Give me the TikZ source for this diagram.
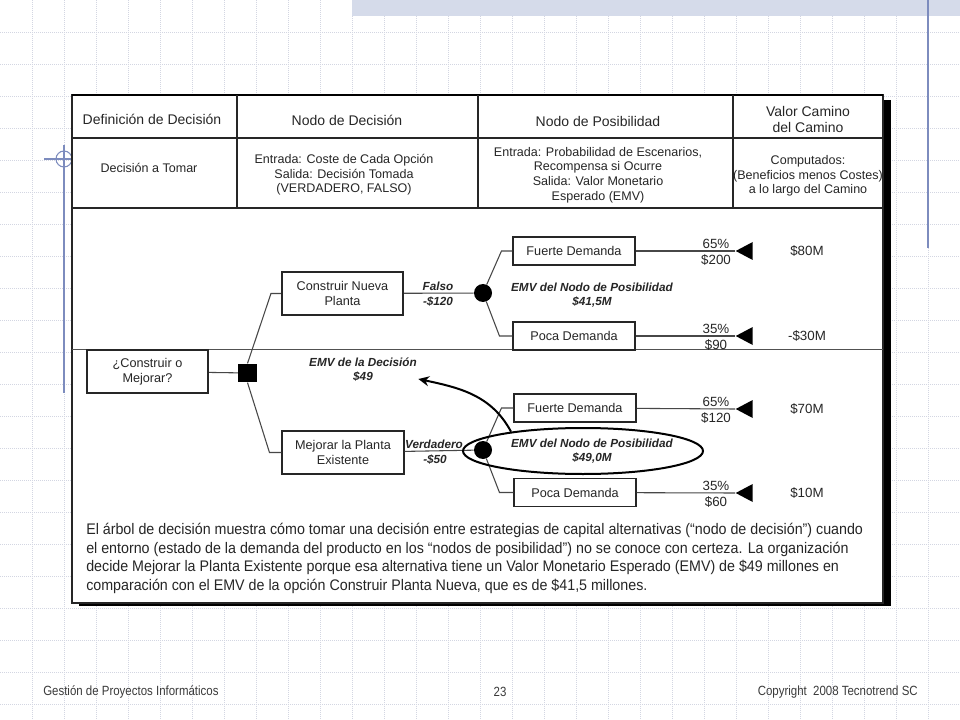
\documentclass[tikz,border=0pt]{standalone}
\usepackage{fontspec}
\setmainfont{Liberation Sans}
\newfontfamily\NarrowSans[FakeStretch=0.86]{Liberation Sans}
\newfontfamily\NoteSans[FakeStretch=0.93]{Liberation Sans}
\usepackage{tikz}
\usetikzlibrary{arrows.meta,positioning,calc,shapes.geometric}
\definecolor{Ink}{HTML}{262626}
\definecolor{Grid}{HTML}{D3D6E2}
\definecolor{Slate}{HTML}{7D8CBE}
\definecolor{Band}{HTML}{D5DBEA}
\definecolor{Foot}{HTML}{3A3A3A}
\tikzset{
  griddot/.style={Grid,line width=0.45pt,dash pattern=on 0.6pt off 0.9pt},
  rule/.style={Ink,line width=1.1pt},
  headcell/.style={text=Ink,align=center,font=\fontsize{10.5}{12}\selectfont},
  bodycell/.style={text=Ink,align=center,font=\fontsize{9.4}{10.9}\selectfont},
  optbox/.style={draw=Ink,line width=1.3pt,text=Ink,align=center,inner sep=0pt,minimum width=91pt,minimum height=32pt,font=\fontsize{9.5}{11}\selectfont},
  demandbox/.style={optbox,minimum height=21pt},
  branch/.style={Ink!85,line width=0.8pt},
  emv/.style={text=Ink,align=center,inner sep=1pt,font=\bfseries\itshape\fontsize{8.8}{10.5}\selectfont},
  num/.style={text=Ink,inner sep=0pt,font=\fontsize{10}{12}\selectfont},
  chance/.style={circle,fill=black,minimum size=13.5pt,inner sep=0pt},
  decsq/.style={rectangle,fill=black,minimum size=14pt,inner sep=0pt},
  endtri/.style={isosceles triangle,isosceles triangle stretches,shape border rotate=180,fill=black,minimum width=13.5pt,minimum height=12.75pt,inner sep=0pt},
  foot/.style={text=Foot,inner sep=0pt,font=\NarrowSans\fontsize{10}{12}\selectfont},
}
\newcommand{\Outcome}[5]{%
  \node[endtri,anchor=apex] (#1End) at (735,#2) {};%
  \draw[branch] (#1) -- (#1End.apex);%
  \node[num] (#1Pct) at (716,#2-7) {#3};%
  \node[num] (#1Pay) at (716,#2+9) {#4};%
  \node[num] (#1Val) at (807,#2) {#5};%
}

\begin{document}
\begin{tikzpicture}[x=0.75pt,y=-0.75pt]
\useasboundingbox (0,0) rectangle (960,720);
\fill[white] (0,0) rectangle (960,720);
\foreach \g in {32,64,...,928} {\draw[griddot] (\g,0) -- (\g,720);}
\foreach \g in {32,64,...,704} {\draw[griddot] (0,\g) -- (960,\g);}
\fill[Band] (352,0) rectangle (960,16);
\draw[Slate,line width=0.8pt] (928,0) -- (928,248);
\draw[Slate,line width=0.8pt] (64,145) -- (64,393);
\draw[Slate,line width=0.8pt] (44,159) -- (72,159);
\draw[Slate,line width=0.8pt] (64,159) circle[radius=8];
\fill[black] (79,100) rectangle (891,606);
\filldraw[fill=white,draw=Ink,line width=0.8pt] (72,95) rectangle (883,603);
\draw[black,line width=1.6pt] (72,95) -- (883,95);
\draw[rule] (72,138) -- (883,138);
\draw[rule] (72,208) -- (883,208);
\foreach \x in {237,478,733} {\draw[rule] (\x,95) -- (\x,208);}
\draw[Ink!80,line width=0.7pt] (72,349) -- (883,349);

\node[headcell] (hDef) at (152,119) {Definición de Decisión};
\node[headcell] (hDec) at (347,120) {Nodo de Decisión};
\node[headcell] (hPos) at (598,121) {Nodo de Posibilidad};
\node[headcell] (hVal) at (808,119) {Valor Camino\\del Camino};
\node[bodycell] (bDef) at (149,168) {Decisión a Tomar};
\node[bodycell] (bDec) at (344,175) {Entrada: Coste de Cada Opción\\Salida: Decisión Tomada\\(VERDADERO, FALSO)};
\node[bodycell] (bPos) at (598,175) {Entrada: Probabilidad de Escenarios,\\Recompensa si Ocurre\\Salida: Valor Monetario\\Esperado (EMV)};
\node[bodycell] (bVal) at (808,176) {Computados:\\(Beneficios menos Costes)\\a lo largo del Camino};

\node[optbox] (ask) at (147.5,371.5) {¿Construir o\\Mejorar?};
\node[decsq] (dec) at (247.5,373) {};
\node[optbox] (build) at (342.5,293.5) {Construir Nueva\\Planta};
\node[optbox] (upgrade) at (343,452.5) {Mejorar la Planta\\Existente};
\node[chance] (chBuild) at (483,293) {};
\node[chance] (chUp) at (483,450) {};
\node[demandbox] (fdBuild) at (574,251) {Fuerte Demanda};
\node[demandbox] (pdBuild) at (574,336) {Poca Demanda};
\node[demandbox] (fdUp) at (575,408) {Fuerte Demanda};
\node[demandbox] (pdUp) at (575,492.5) {Poca Demanda};

\draw[branch] (ask) -- (dec);
\draw[branch] (dec.north) -- ($(build.west)+(-10,0)$) -- (build.west);
\draw[branch] (dec.south) -- ($(upgrade.west)+(-12,0)$) -- (upgrade.west);
\draw[branch] (build) -- (chBuild);
\draw[branch] (upgrade) -- (chUp);
\draw[branch] (chBuild) -- ($(fdBuild.west)+(-11,0)$) -- (fdBuild.west);
\draw[branch] (chBuild) -- ($(pdBuild.west)+(-13,0)$) -- (pdBuild.west);
\draw[branch] (chUp) -- ($(fdUp.west)+(-12,0)$) -- (fdUp.west);
\draw[branch] (chUp) -- ($(pdUp.west)+(-14,0)$) -- (pdUp.west);

\node[emv] (falso) at (438,286) {Falso};
\node[emv] (costBuild) at (438,302) {-\$120};
\node[emv] (verdad) at (434,444) {Verdadero};
\node[emv] (costUp) at (435,460) {-\$50};
\node[emv] (emvDec) at (363,370) {EMV de la Decisión\\\$49};
\node[emv] (emvBuild) at (592,295) {EMV del Nodo de Posibilidad\\\$41,5M};
\node[emv] (emvUp) at (592,451) {EMV del Nodo de Posibilidad\\\$49,0M};
\node[draw=black,line width=1.5pt,ellipse,minimum width=180pt,minimum height=34.5pt,inner sep=0pt] (ring) at (583,451) {};
\draw[black,line width=1.5pt,-{Stealth[length=8pt,width=7.5pt]}] (ring.165) to[out=118,in=-12] ($(emvDec.east)+(0,9)$);

\Outcome{fdBuild}{251}{65\%}{\$200}{\$80M}
\Outcome{pdBuild}{336}{35\%}{\$90}{-\$30M}
\Outcome{fdUp}{409}{65\%}{\$120}{\$70M}
\Outcome{pdUp}{493}{35\%}{\$60}{\$10M}

\node[anchor=north west,align=left,text=Ink,inner sep=0pt,font=\NoteSans\fontsize{11.5}{14}\selectfont] (note) at (86,523) {El árbol de decisión muestra cómo tomar una decisión entre estrategias de capital alternativas (“nodo de decisión”) cuando\\el entorno (estado de la demanda del producto en los “nodos de posibilidad”) no se conoce con certeza. La organización\\decide Mejorar la Planta Existente porque esa alternativa tiene un Valor Monetario Esperado (EMV) de \$49 millones en\\comparación con el EMV de la opción Construir Planta Nueva, que es de \$41,5 millones.};

\node[foot,anchor=west] (fLeft) at (43,692) {Gestión de Proyectos Informáticos};
\node[foot] (fPage) at (500,692) {23};
\node[foot,anchor=east] (fRight) at (918,692) {Copyright~~2008 Tecnotrend SC};
\end{tikzpicture}
\end{document}
